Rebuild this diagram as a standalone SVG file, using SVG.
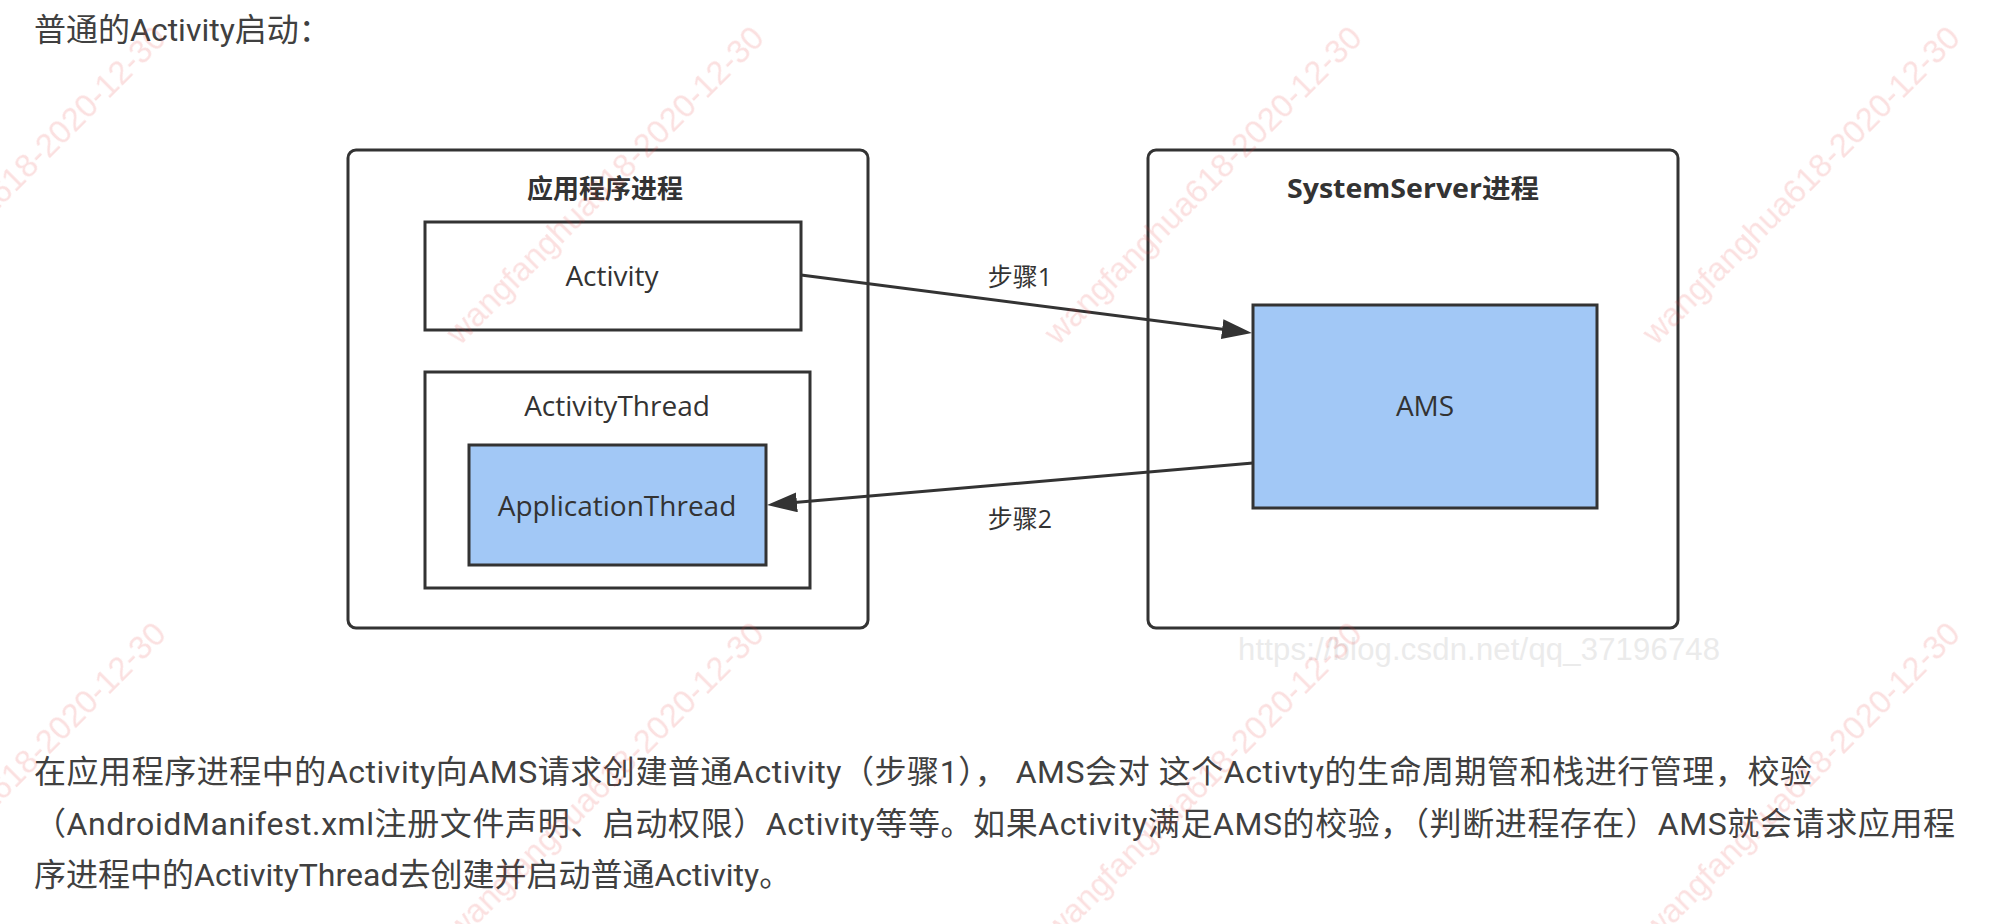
<svg xmlns="http://www.w3.org/2000/svg" width="2004" height="924" viewBox="0 0 2004 924">
<style>
.page{font-family:Roboto,"Noto Sans CJK SC",sans-serif;font-size:32px;fill:#404040}
.box{fill:#ffffff;stroke:#333333;stroke-width:3}
.blue{fill:#a2c8f6;stroke:#333333;stroke-width:3}
.lbl{font-family:"Open Sans","Noto Sans CJK SC",sans-serif;font-size:28px;fill:#333333;text-anchor:middle}
.ttl{font-family:"Open Sans","Noto Sans CJK SC",sans-serif;font-size:26px;font-weight:bold;fill:#333333;text-anchor:middle}
.step{font-family:"Open Sans","Noto Sans CJK SC",sans-serif;font-size:25px;fill:#333333;text-anchor:middle}
.edge{fill:none;stroke:#333333;stroke-width:3}
.wm{font-family:"Liberation Sans",Arial,sans-serif;font-size:33px;fill:#e63c3c;opacity:0.16;text-anchor:end}
.csdn{font-family:"Liberation Sans",Arial,sans-serif;font-size:31px;fill:#ebebeb}
</style>
<defs>
<marker id="arr" viewBox="0 0 30 20" refX="20" refY="10" markerWidth="30" markerHeight="20" markerUnits="userSpaceOnUse" orient="auto">
<path d="M0,0 L30,10 L0,20 Z" fill="#333333"/>
</marker>
</defs>
<rect width="2004" height="924" fill="#ffffff"/>

<g id="page-text" class="page">
<text x="34" y="41">普通的Activity启动：</text>
<text x="34" y="783" textLength="1778" lengthAdjust="spacing">在应用程序进程中的Activity向AMS请求创建普通Activity（步骤1）， AMS会对 这个Activty的生命周期管和栈进行管理，校验</text>
<text x="34" y="835" textLength="1921" lengthAdjust="spacing">（AndroidManifest.xml注册文件声明、启动权限）Activity等等。如果Activity满足AMS的校验，（判断进程存在）AMS就会请求应用程</text>
<text x="34" y="886">序进程中的ActivityThread去创建并启动普通Activity。</text>
</g>

<g id="app-process">
<rect class="box" x="348" y="150" width="520" height="478" rx="8"/>
<text class="ttl" x="605" y="198">应用程序进程</text>
</g>
<g id="activity">
<rect class="box" x="425" y="222" width="376" height="108"/>
<text class="lbl" x="612" y="286">Activity</text>
</g>
<g id="activity-thread">
<rect class="box" x="425" y="372" width="385" height="216"/>
<text class="lbl" x="617" y="416">ActivityThread</text>
</g>
<g id="application-thread">
<rect class="blue" x="469" y="445" width="297" height="120"/>
<text class="lbl" x="617" y="516">ApplicationThread</text>
</g>

<g id="systemserver-process">
<rect class="box" x="1148" y="150" width="530" height="478" rx="8"/>
<text class="ttl" x="1413" y="198" textLength="252" lengthAdjust="spacingAndGlyphs">SystemServer进程</text>
</g>
<g id="ams">
<rect class="blue" x="1253" y="305" width="344" height="203"/>
<text class="lbl" x="1425" y="416">AMS</text>
</g>

<g id="connectors">
<path class="edge" d="M801,275 L1242,331.7" marker-end="url(#arr)"/>
<text class="step" x="1020" y="286">步骤1</text>
<path class="edge" d="M1253,463 L777,504.1" marker-end="url(#arr)"/>
<text class="step" x="1020" y="528">步骤2</text>
</g>

<text class="csdn" x="1238" y="660" textLength="482" lengthAdjust="spacing">https://blog.csdn.net/qq_37196748</text>

<g id="watermarks" class="wm">
<text transform="translate(168,40) rotate(-45)">wangfanghua618-2020-12-30</text>
<text transform="translate(766,40) rotate(-45)">wangfanghua618-2020-12-30</text>
<text transform="translate(1364,40) rotate(-45)">wangfanghua618-2020-12-30</text>
<text transform="translate(1962,40) rotate(-45)">wangfanghua618-2020-12-30</text>
<text transform="translate(168,636) rotate(-45)">wangfanghua618-2020-12-30</text>
<text transform="translate(766,636) rotate(-45)">wangfanghua618-2020-12-30</text>
<text transform="translate(1364,636) rotate(-45)">wangfanghua618-2020-12-30</text>
<text transform="translate(1962,636) rotate(-45)">wangfanghua618-2020-12-30</text>
</g>
</svg>
